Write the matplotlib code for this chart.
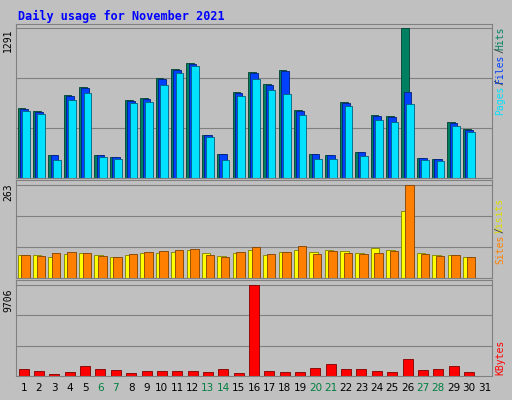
import matplotlib
matplotlib.use("Agg")
import matplotlib.pyplot as plt
import numpy as np

days = list(range(1, 32))
hits = [602,576,200,715,785,200,183,672,689,864,942,994,375,209,741,916,811,933,584,209,200,654,227,541,532,1291,174,166,480,419]
files = [596,570,198,708,778,198,181,666,683,857,936,988,371,206,735,908,804,926,578,206,198,648,224,536,527,741,172,164,475,414]
pages = [576,550,157,672,733,183,166,645,654,803,907,968,357,157,706,855,759,724,541,166,166,619,192,497,480,637,157,148,453,401]
visits = [66,64,60,68,70,64,60,66,70,70,74,80,70,62,70,80,64,72,78,72,80,76,70,84,80,190,70,66,64,60]
sites = [64,62,70,72,70,62,58,68,74,76,78,82,64,60,72,86,68,74,90,68,76,70,68,70,76,263,68,62,64,60]
kb_px = [367,369,372,370,364,367,368,371,369,369,369,369,370,367,371,284,369,370,370,366,362,367,367,369,370,357,368,367,364,370]
kbytes = [round((374 - p) / 90 * 9706) for p in kb_px]
weekend = [6, 7, 13, 14, 20, 21, 27, 28]

W, H = 512, 400
fig = plt.figure(figsize=(W/100, H/100), dpi=100)
fig.patch.set_facecolor('#c0c0c0')
mono = 'DejaVu Sans Mono'
fig.text(18/W, 1-16/H, 'Daily usage for November 2021', color='#0000ff',
         fontweight='bold', family=mono, fontsize=8.5, va='center')

def mkax(top, bot):
    ax = fig.add_axes([16/W, 1-bot/H, 476/W, (bot-top)/H])
    ax.set_facecolor('#c0c0c0')
    ax.set_xlim(0.5, 31.5)
    ax.set_xticks([]); ax.set_yticks([])
    for s in ax.spines.values():
        s.set_color('#808080')
    return ax

def side(parts, ytop):
    y = ytop
    for txt, col in parts:
        fig.text(500/W, 1-y/H, txt, color=col, rotation=90, fontsize=7,
                 family=mono, ha='center', va='top')
        y += len(txt) * 4.6 + 2

x = np.arange(1, 31)
ax1 = mkax(24, 178)
ax1.set_ylim(0, 1291*1.03)
for g in (1291/3, 2*1291/3, 1291):
    ax1.axhline(g, color='#808080', lw=0.8, zorder=0)
ax1.bar(x-0.15, hits, 0.5, color='#008060', edgecolor='#004030', lw=0.6)
ax1.bar(x, files, 0.5, color='#0040ff', edgecolor='#002080', lw=0.6)
ax1.bar(x+0.15, pages, 0.5, color='#00e0ff', edgecolor='#006080', lw=0.6)
fig.text(8/W, 1-40/H, '1291', rotation=90, fontsize=7, family=mono, ha='center', va='center')
side([('Hits', '#008060'), ('/', '#404040'), ('Files', '#0040ff'),
      ('/', '#404040'), ('Pages', '#00e0ff')], 27)

ax2 = mkax(180, 278)
ax2.set_ylim(0, 263*1.05)
for g in (263/3, 2*263/3, 263):
    ax2.axhline(g, color='#808080', lw=0.8, zorder=0)
ax2.bar(x-0.12, visits, 0.55, color='#ffff00', edgecolor='#808000', lw=0.6)
ax2.bar(x+0.12, sites, 0.55, color='#ff8000', edgecolor='#804000', lw=0.6)
fig.text(8/W, 1-192/H, '263', rotation=90, fontsize=7, family=mono, ha='center', va='center')
side([('Visits', '#e0e000'), ('/', '#404040'), ('Sites', '#ff8000')], 198)

ax3 = mkax(280, 376)
ax3.set_ylim(0, 9706*1.05)
for g in (9706/3, 2*9706/3, 9706):
    ax3.axhline(g, color='#808080', lw=0.8, zorder=0)
ax3.bar(x, kbytes, 0.65, color='#ff0000', edgecolor='#800000', lw=0.6)
fig.text(8/W, 1-300/H, '9706', rotation=90, fontsize=7, family=mono, ha='center', va='center')
side([('KBytes', '#ff0000')], 340)

for d in days:
    xp = (16 + (d - 0.5) / 31 * 476) / W
    fig.text(xp, 1-388/H, str(d), color='#008040' if d in weekend else '#000000',
             fontsize=7.5, ha='center', va='center')

fig.savefig('out.png', dpi=100, facecolor=fig.get_facecolor())
